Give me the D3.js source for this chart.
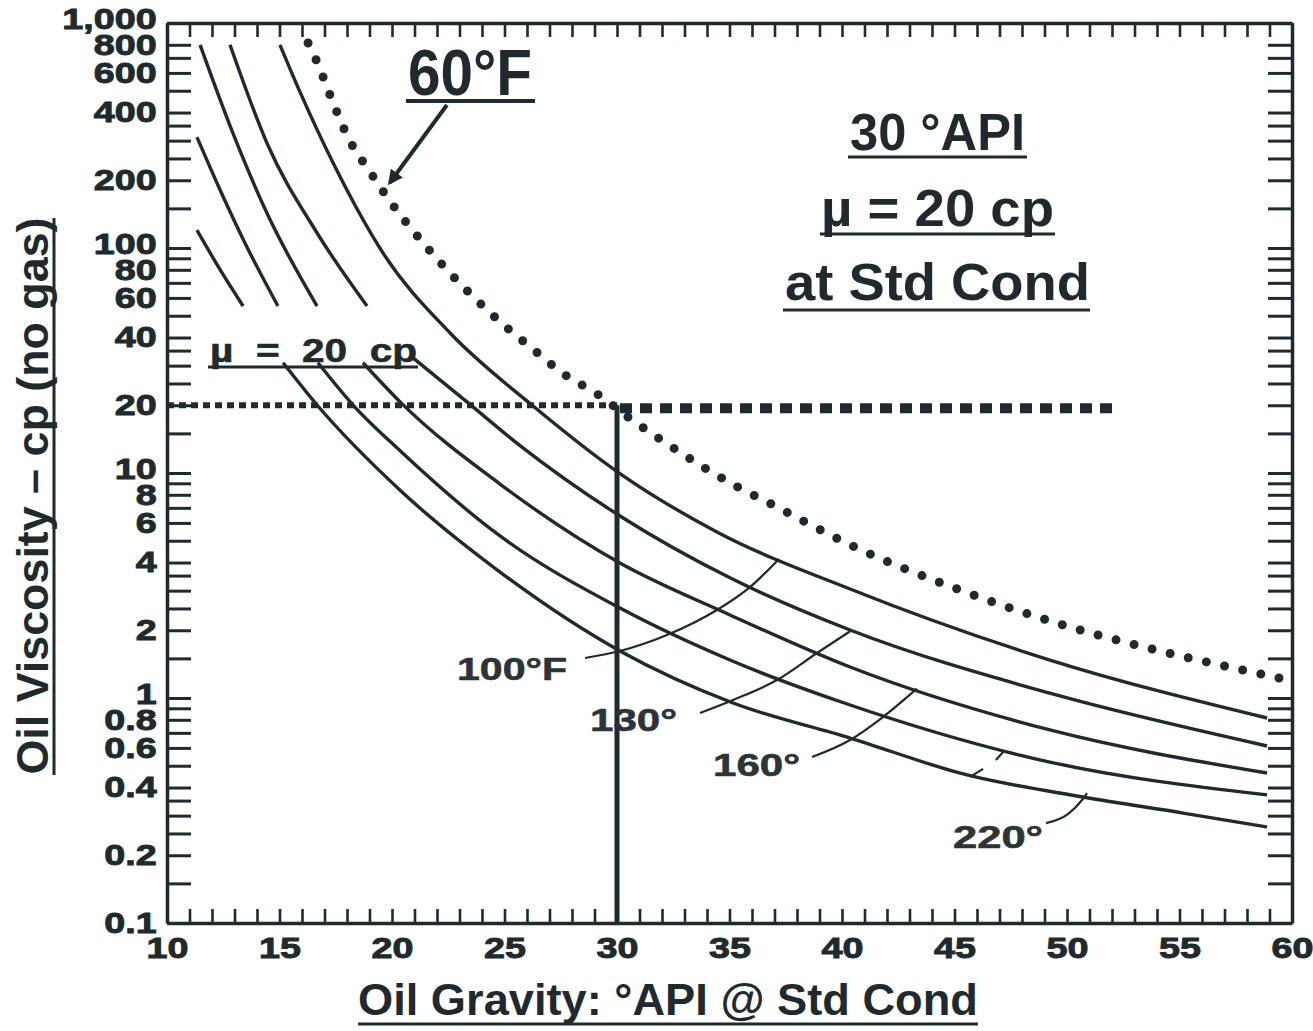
<!DOCTYPE html>
<html>
<head>
<meta charset="utf-8">
<script src="https://cdn.jsdelivr.net/npm/d3@7"></script>
<style>
  body { margin: 0; background: #fff; }
  .chart text { font-family: "Liberation Sans", Arial, sans-serif; font-weight: bold; }
</style>
</head>
<body>
<div class="chart"></div>
<script>
// ---- axis ticks and labels ----
var apiLabels = [10, 15, 20, 25, 30, 35, 40, 45, 50, 55, 60];
var apiTicks = d3.range(10, 61);
var cpTicks = [0.1, 0.15, 0.2, 0.25, 0.3, 0.35, 0.4, 0.5, 0.6, 0.7, 0.8, 0.9,
               1, 1.5, 2, 2.5, 3, 3.5, 4, 5, 6, 7, 8, 9,
               10, 15, 20, 25, 30, 35, 40, 50, 60, 70, 80, 90,
               100, 150, 200, 250, 300, 350, 400, 500, 600, 700, 800, 1000];
var cpLabelValues = [0.1, 0.2, 0.4, 0.6, 0.8, 1, 2, 4, 6, 8, 10, 20, 40, 60, 80, 100, 200, 400, 600, 800, 1000];
var cpLabelText = ["0.1", "0.2", "0.4", "0.6", "0.8", "1", "2", "4", "6", "8", "10", "20", "40", "60", "80", "100", "200", "400", "600", "800", "1,000"];

// ---- solid curves (null = gap behind the "u = 20 cp" label) ----
var curveA_api = [11.33, 12.36, 13.38, 14.3, 15.16, 16.67, 20.36, 24.8, 30.13, 35.16, 40.36, 45.56, 50.71, 55.16, 58.89];
var curveA_cp  = [120, 80.1, 55.2, null, 30.9, 20.05, 8.38, 3.63, 1.618, 0.95, 0.664, 0.455, 0.363, 0.308, 0.267];

var curveB_api = [11.33, 12.36, 13.47, 14.93, 15.8, 16.71, 18.27, 20.36, 24.8, 30.13, 35.02, 40.36, 49.24, 58.89];
var curveB_cp  = [311, 181, 105, 55.2, null, 30.9, 20.05, 12.56, 5.25, 2.51, 1.475, 0.931, 0.519, 0.371];

var curveC_api = [11.47, 12.93, 14.44, 16.67, 17.7, 18.71, 20.36, 24.8, 30.13, 35.02, 40.36, 49.24, 58.89];
var curveC_cp  = [800, 324, 143, 55.2, null, 30.9, 20.7, 8.93, 3.98, 2.34, 1.373, 0.721, 0.464];

var curveD_api = [12.8, 14.44, 16.67, 18.89, 20.0, 20.93, 23.33, 25.69, 30.22, 35.02, 40.36, 49.24, 58.89];
var curveD_cp  = [800, 293, 116.6, 55.2, null, 32.5, 20.7, 13.24, 6.36, 3.42, 2.005, 1.05, 0.612];

var curveE_api = [15.02, 15.91, 17.38, 19.6, 22.58, 26.27, 30.13, 34.44, 40.36, 49.24, 58.89];
var curveE_cp  = [800, 494, 239, 95, 41.9, 19.85, 9.94, 5.47, 3.05, 1.475, 0.815];

// ---- 60 F dotted curve ----
var dotted_api = [16.27, 16.67, 17.33, 18.04, 19.02, 20.04, 21.16, 22.36, 23.6, 24.89, 26.27, 27.6, 29.16,
                  30.67, 32.22, 33.78, 35.38, 37.02, 38.67, 40.13, 45.24, 49.56, 54.0, 58.44, 60.2];
var dotted_cp  = [815, 671, 455, 311, 218, 155, 112, 81.7, 60.9, 46.2, 35.5, 27.7, 22.3,
                  17.2, 13.5, 10.7, 8.65, 7.14, 5.84, 4.92, 3.02, 2.15, 1.63, 1.29, 1.18];

// ---- temperature cross lines ----
var iso100_api = [28.58, 30.13, 32.22, 34.44, 35.91, 37.2];
var iso100_cp  = [1.506, 1.618, 1.905, 2.46, 3.11, 4.15];
var iso130_api = [33.69, 35.16, 37.11, 38.89, 40.36];
var iso130_cp  = [0.858, 0.98, 1.202, 1.585, 1.98];
var iso160_api = [38.67, 40.36, 41.82, 43.33];
var iso160_cp  = [0.547, 0.651, 0.823, 1.1];
var iso190_api = [45.69, 46.27, 46.5, 46.84, 47.2];
var iso190_cp  = [0.446, 0.484, null, 0.53, 0.581];
var iso220_api = [49.07, 50.04, 50.67, 50.89];
var iso220_cp  = [0.278, 0.305, 0.352, 0.378];

// reference point: 30 API, 20 cp
var refApi = 30;
var refCp = 20;
var refLineEndApi = 52.04;

// ---- layout ----
var svgWidth = 1313;
var svgHeight = 1031;
var plot = { left: 167, right: 1292, top: 23, bottom: 923 };
var ink = "#1e2a2d";

var svg = d3.select(".chart")
    .append("svg")
    .attr("width", svgWidth)
    .attr("height", svgHeight);

var x = d3.scaleLinear().domain([10, 60]).range([plot.left, plot.right]);
var y = d3.scaleLog().domain([0.1, 1000]).range([plot.bottom, plot.top]);

function zip(a, b) {
    return a.map(function(v, i) { return [v, b[i]]; });
}

var line = d3.line()
    .defined(function(d) { return d[1] != null; })
    .x(function(d) { return x(d[0]); })
    .y(function(d) { return y(d[1]); })
    .curve(d3.curveMonotoneX);

// solid curves
[[curveA_api, curveA_cp], [curveB_api, curveB_cp], [curveC_api, curveC_cp],
 [curveD_api, curveD_cp], [curveE_api, curveE_cp]].forEach(function(c) {
    svg.append("path")
        .attr("d", line(zip(c[0], c[1])))
        .attr("fill", "none")
        .attr("stroke", ink)
        .attr("stroke-width", 3.4);
});

// temperature lines
[[iso100_api, iso100_cp], [iso130_api, iso130_cp], [iso160_api, iso160_cp],
 [iso190_api, iso190_cp], [iso220_api, iso220_cp]].forEach(function(c) {
    svg.append("path")
        .attr("d", line(zip(c[0], c[1])))
        .attr("fill", "none")
        .attr("stroke", ink)
        .attr("stroke-width", 2.2);
});

// 60 F dotted curve
svg.append("path")
    .attr("d", line(zip(dotted_api, dotted_cp)))
    .attr("fill", "none")
    .attr("stroke", ink)
    .attr("stroke-width", 9)
    .attr("stroke-linecap", "round")
    .attr("stroke-dasharray", "0 18.6");

// horizontal 20 cp line: fine dashes left of 30 API, heavy squares to the right
svg.append("line")
    .attr("x1", x(10)).attr("x2", x(refApi))
    .attr("y1", y(refCp)).attr("y2", y(refCp))
    .attr("stroke", ink).attr("stroke-width", 6)
    .attr("stroke-dasharray", "7 5");
svg.append("line")
    .attr("x1", x(refApi) + 3).attr("x2", x(refLineEndApi))
    .attr("y1", y(refCp) + 3).attr("y2", y(refCp) + 3)
    .attr("stroke", ink).attr("stroke-width", 10)
    .attr("stroke-dasharray", "12 8");

// vertical 30 API line
svg.append("line")
    .attr("x1", x(refApi)).attr("x2", x(refApi))
    .attr("y1", y(refCp)).attr("y2", y(0.1))
    .attr("stroke", ink).attr("stroke-width", 5);

// ---- axes ----
function styleAxis(g, tickWidth) {
    g.attr("color", ink);
    g.select(".domain").attr("stroke-width", 3.5);
    g.selectAll(".tick line").attr("stroke-width", tickWidth);
    g.selectAll("text")
        .style("font-family", '"Liberation Sans", Arial, sans-serif')
        .style("font-weight", "bold")
        .style("font-size", "29px")
        .attr("fill", ink)
        .attr("stroke", ink)
        .attr("stroke-width", 0.9)
        .attr("transform", "scale(1.3,1)");
}

var bottomAxis = d3.axisBottom(x)
    .tickValues(apiTicks)
    .tickSizeInner(-14).tickSizeOuter(0).tickPadding(14)
    .tickFormat(function(d) { return apiLabels.indexOf(d) >= 0 ? d : ""; });
svg.append("g")
    .attr("transform", "translate(0," + plot.bottom + ")")
    .call(bottomAxis)
    .call(styleAxis, 2.6);

var topAxis = d3.axisTop(x)
    .tickValues(apiTicks)
    .tickSizeInner(-14).tickSizeOuter(0)
    .tickFormat("");
svg.append("g")
    .attr("transform", "translate(0," + plot.top + ")")
    .call(topAxis)
    .call(styleAxis, 2.6);

var leftAxis = d3.axisLeft(y)
    .tickValues(cpTicks)
    .tickSizeInner(-24).tickSizeOuter(0).tickPadding(8)
    .tickFormat(function(d) {
        var i = cpLabelValues.indexOf(d);
        return i >= 0 ? cpLabelText[i] : "";
    });
var leftG = svg.append("g")
    .attr("transform", "translate(" + plot.left + ",0)")
    .call(leftAxis)
    .call(styleAxis, 3);
// decade labels sit a little above their ticks in the original
leftG.selectAll(".tick text")
    .filter(function(d) { return [1000, 100, 10, 1].indexOf(d) >= 0; })
    .attr("y", -4);

var rightAxis = d3.axisRight(y)
    .tickValues(cpTicks)
    .tickSizeInner(-24).tickSizeOuter(0)
    .tickFormat("");
svg.append("g")
    .attr("transform", "translate(" + plot.right + ",0)")
    .call(rightAxis)
    .call(styleAxis, 3);

// ---- titles ----
function underline(x1, x2, yy, w) {
    svg.append("line")
        .attr("x1", x1).attr("x2", x2)
        .attr("y1", yy).attr("y2", yy)
        .attr("stroke", ink).attr("stroke-width", w || 3);
}

svg.append("text")
    .attr("transform", "translate(48,496) rotate(-90)")
    .attr("text-anchor", "middle")
    .attr("fill", ink)
    .style("font-size", "44px")
    .attr("textLength", 557)
    .attr("lengthAdjust", "spacingAndGlyphs")
    .text("Oil Viscosity – cp (no gas)");
svg.append("line")
    .attr("x1", 54).attr("x2", 54)
    .attr("y1", 218).attr("y2", 775)
    .attr("stroke", ink).attr("stroke-width", 3);

svg.append("text")
    .attr("x", 668).attr("y", 1015)
    .attr("text-anchor", "middle")
    .attr("fill", ink)
    .style("font-size", "44px")
    .attr("textLength", 620)
    .attr("lengthAdjust", "spacingAndGlyphs")
    .text("Oil Gravity: °API @ Std Cond");
underline(358, 978, 1024);

// ---- annotations ----
function label(txt, xx, yy, size, len, anchor) {
    return svg.append("text")
        .attr("x", xx).attr("y", yy)
        .attr("text-anchor", anchor || "start")
        .attr("fill", ink)
        .style("font-size", size + "px")
        .style("white-space", "pre")
        .attr("textLength", len)
        .attr("lengthAdjust", "spacingAndGlyphs")
        .text(txt);
}

// 60 F with arrow
label("60°F", 408, 95, 64, 124);
underline(406, 535, 101, 4);

svg.append("defs").append("marker")
    .attr("id", "arrowHead")
    .attr("viewBox", "0 0 10 10")
    .attr("refX", 8).attr("refY", 5)
    .attr("markerUnits", "userSpaceOnUse")
    .attr("markerWidth", 18).attr("markerHeight", 15)
    .attr("orient", "auto")
    .append("path")
    .attr("d", "M0,0 L10,5 L0,10 z")
    .attr("fill", ink);

svg.append("line")
    .attr("x1", x(22.44)).attr("y1", y(432))
    .attr("x2", x(19.9)).attr("y2", y(195))
    .attr("stroke", ink).attr("stroke-width", 4)
    .attr("marker-end", "url(#arrowHead)");

// right block
label("30 °API", 937.5, 150, 52, 175, "middle");
underline(848, 1027, 157);
label("µ = 20 cp", 937.5, 226, 52, 233, "middle");
underline(820, 1055, 234);
label("at Std Cond", 937.5, 300, 52, 305, "middle");
underline(783, 1090, 310);

// left label on the curves
label("µ  =  20  cp", 210, 362, 34, 207).attr("stroke", ink).attr("stroke-width", 0.6);
underline(208, 418, 367);

// temperature labels
[["100°F", 457, 680, 110], ["130°", 590, 731, 87], ["160°", 713, 776, 87], ["220°", 953, 848, 90]]
    .forEach(function(t) {
        label(t[0], t[1], t[2], 32, t[3])
            .attr("fill", "#2b3436")
            .attr("stroke", "#2b3436")
            .attr("stroke-width", 0.6);
    });
</script>
</body>
</html>
